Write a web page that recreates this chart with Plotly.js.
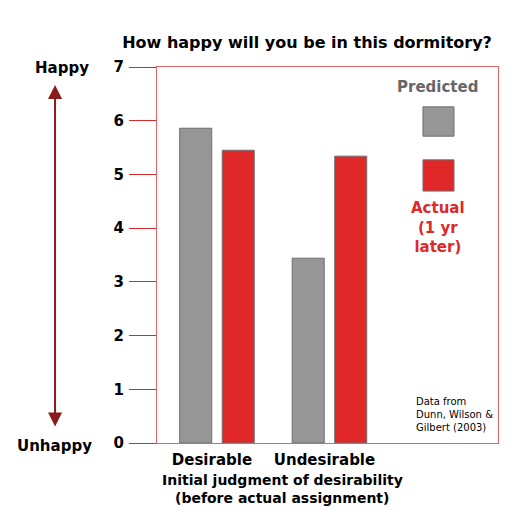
<!DOCTYPE html>
<html>
<head>
<meta charset="utf-8">
<script src="https://cdn.plot.ly/plotly-3.0.1.min.js"></script>
<style>html,body{margin:0;padding:0;background:#fff;}#chart{width:517px;height:524px;}</style>
</head>
<body>
<div id="chart"></div>
<script>
// Data
const categories = ["Desirable", "Undesirable"];
const predicted = [5.86, 3.44];
const actual = [5.45, 5.34];
const seriesNames = ["Predicted", "Actual (1 yr later)"];
const yTicks = [0, 1, 2, 3, 4, 5, 6, 7];
const xTitle = ["Initial judgment of desirability", "(before actual assignment)"];

const FONT = "DejaVu Sans, Verdana, sans-serif";
const GREY = "#969696";
const RED = "#e02828";
const OUTLINE = "#6e6e6e";

const traces = [
  {type: "bar", name: seriesNames[0], x: categories, y: predicted,
   marker: {color: GREY, line: {color: OUTLINE, width: 1}}, hoverinfo: "none"},
  {type: "bar", name: seriesNames[1], x: categories, y: actual,
   marker: {color: RED, line: {color: OUTLINE, width: 1}}, hoverinfo: "none"}
];

const layout = {
  width: 517, height: 524,
  margin: {l: 157, r: 19, t: 67, b: 81},
  paper_bgcolor: "#fff", plot_bgcolor: "#fff",
  showlegend: false,
  barmode: "group", bargap: 0.244, bargroupgap: 0.247,
  font: {family: FONT, color: "#000"},
  title: {text: "<b>How happy will you be in this dormitory?</b>",
          font: {family: FONT, size: 16, color: "#000"},
          x: 0.44, xref: "paper", xanchor: "center", y: 1 - 42/524, yanchor: "middle"},
  xaxis: {
    type: "category", range: [-0.533, 2.498],
    showline: true, mirror: true, linecolor: "#e06464", linewidth: 1,
    ticks: "", showgrid: false, zeroline: false,
    tickfont: {family: FONT, size: 15, color: "#000"},
    ticklabelshift: -5, ticklabelstandoff: 3,
    tickvals: categories, ticktext: categories.map(c => "<b>" + c + "</b>")
  },
  yaxis: {
    range: [0, 7], tickvals: yTicks, ticktext: yTicks.map(v => "<b>" + v + "</b>"),
    showline: true, mirror: true, linecolor: "#e06464", linewidth: 1,
    ticks: "outside", ticklen: 27, tickcolor: "#d42a2a", tickwidth: 1,
    showgrid: false, zeroline: false, ticklabelstandoff: 2,
    tickfont: {family: FONT, size: 15, color: "#000"}
  },
  shapes: [
    {type: "rect", xref: "paper", yref: "paper", x0: 0.780, x1: 0.871, y0: 0.816, y1: 0.894,
     fillcolor: GREY, line: {color: OUTLINE, width: 1}},
    {type: "rect", xref: "paper", yref: "paper", x0: 0.780, x1: 0.871, y0: 0.670, y1: 0.753,
     fillcolor: RED, line: {color: OUTLINE, width: 1}}
  ],
  annotations: [
    {xref: "paper", yref: "paper", x: 0.367, y: -0.0997, xanchor: "center", yanchor: "middle",
     text: "<b>" + xTitle[0] + "</b>",
     showarrow: false, font: {family: FONT, size: 14, color: "#000"}},
    {xref: "paper", yref: "paper", x: 0.367, y: -0.145, xanchor: "center", yanchor: "middle",
     text: "<b>" + xTitle[1] + "</b>",
     showarrow: false, font: {family: FONT, size: 14, color: "#000"}},
    {xref: "paper", yref: "paper", x: 0.824, y: 0.947, xanchor: "center", yanchor: "middle",
     text: "<b>" + seriesNames[0] + "</b>",
     showarrow: false, font: {family: FONT, size: 15, color: "#666"}},
    {xref: "paper", yref: "paper", x: 0.824, y: 0.572, xanchor: "center", yanchor: "middle",
     text: "<b>Actual<br>(1 yr<br>later)</b>",
     showarrow: false, font: {family: FONT, size: 15, color: RED}},
    {xref: "paper", yref: "paper", x: 0.754, y: 0.077, xanchor: "left", yanchor: "middle", align: "left",
     text: "Data from<br>Dunn, Wilson &amp;<br>Gilbert (2003)",
     showarrow: false, font: {family: FONT, size: 10, color: "#000"}},
    {xref: "paper", yref: "paper", x: -0.279, y: 0.997, xanchor: "center", yanchor: "middle",
     text: "<b>Happy</b>",
     showarrow: false, font: {family: FONT, size: 15, color: "#000"}},
    {xref: "paper", yref: "paper", x: -0.302, y: -0.008, xanchor: "center", yanchor: "middle",
     text: "<b>Unhappy</b>",
     showarrow: false, font: {family: FONT, size: 15, color: "#000"}},
    {xref: "paper", yref: "paper", x: -0.299, y: 0.952, text: "",
     showarrow: true, ax: 0, ay: 343, arrowside: "end+start",
     arrowhead: 2, arrowsize: 1.4, arrowwidth: 2, arrowcolor: "#8b1a1a"}
  ]
};

Plotly.newPlot("chart", traces, layout, {displayModeBar: false, staticPlot: true});
</script>
</body>
</html>
